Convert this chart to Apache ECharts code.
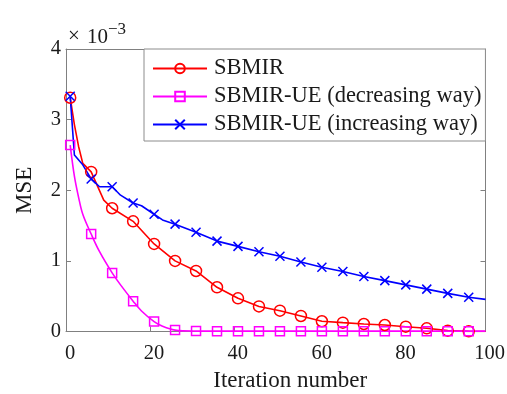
<!DOCTYPE html>
<html>
<head>
<meta charset="utf-8">
<script src="https://cdn.jsdelivr.net/npm/echarts@6/dist/echarts.min.js"></script>
<style>
  html, body { margin: 0; padding: 0; background: #fff; }
  #chart { width: 507px; height: 394px; }
</style>
</head>
<body>
<div id="chart"></div>
<script>
// iteration numbers and MSE (x 1e-3), markers are drawn every 5 iterations from 1
var redX = [1, 2, 3, 4, 6, 9, 11, 16, 21, 26, 31, 36, 41, 46, 51, 56, 61, 66, 71, 76, 81, 86, 91, 96, 100];
var redY = [3.31, 2.93, 2.62, 2.38, 2.26, 1.86, 1.745, 1.56, 1.24, 1.0, 0.857, 0.626, 0.47, 0.355, 0.295, 0.22, 0.145, 0.125, 0.106, 0.092, 0.068, 0.045, 0.012, 0.002, 0.0];

var magX = [1, 2, 3, 4, 6, 8, 11, 13, 16, 18, 21, 23, 26, 31, 36, 41, 46, 51, 56, 61, 66, 71, 76, 81, 86, 91, 96, 100];
var magY = [2.64, 2.2, 1.9, 1.66, 1.38, 1.13, 0.83, 0.66, 0.43, 0.29, 0.14, 0.075, 0.02, 0.006, 0.005, 0.005, 0.005, 0.005, 0.005, 0.005, 0.005, 0.005, 0.005, 0.005, 0.005, 0.005, 0.005, 0.005];

var blueX = [1, 2, 4, 6, 8, 11, 13, 16, 18, 21, 23, 26, 31, 36, 41, 46, 51, 56, 61, 66, 71, 76, 81, 86, 91, 96, 100];
var blueY = [3.33, 2.5, 2.36, 2.16, 2.05, 2.05, 1.93, 1.82, 1.78, 1.66, 1.58, 1.52, 1.405, 1.28, 1.205, 1.13, 1.065, 0.985, 0.91, 0.85, 0.78, 0.72, 0.66, 0.60, 0.54, 0.485, 0.455];

var names = ['SBMIR', 'SBMIR-UE (decreasing way)', 'SBMIR-UE (increasing way)'];
var xTicks = [0, 100, 20];
var yTicks = [0, 4, 1];

var FONT = '"Liberation Serif", "Times New Roman", serif';
var crossPath = 'path://M0,0L10,10M10,0L0,10';

function pts(xs, ys) {
  return xs.map(function (x, i) {
    var item = { value: [x, ys[i]] };
    if ((x - 1) % 5 !== 0 || x > 96) item.symbol = 'none';
    return item;
  });
}

function mkSeries(name, xs, ys, color, symbol, size, smooth) {
  return {
    name: name,
    type: 'line',
    data: pts(xs, ys),
    symbol: symbol,
    symbolSize: size,
    showAllSymbol: true,
    smooth: smooth,
    lineStyle: { color: color, width: 1.6 },
    itemStyle: { color: 'rgba(0,0,0,0)', borderColor: color, borderWidth: 1.5 },
    emphasis: { disabled: true },
    animation: false,
    z: 3
  };
}

var myChart = echarts.init(document.getElementById('chart'));
myChart.setOption({
  animation: false,
  grid: { left: 66, right: 21.5, top: 49, bottom: 62.5, outerBoundsMode: 'none', containLabel: false },
  legend: {
    left: 144,
    top: 49,
    orient: 'vertical',
    backgroundColor: '#fff',
    borderColor: '#8c8c8c',
    borderWidth: 1,
    padding: [8, 4, 5, 8],
    itemWidth: 54,
    itemHeight: 12,
    itemGap: 5,
    textStyle: { fontFamily: FONT, fontSize: 22.5, color: '#1a1a1a', lineHeight: 22, padding: [0, 0, 0, 2] },
    data: names
  },
  graphic: [{
    type: 'text',
    left: 68,
    top: 26,
    style: { text: '\u00d7', fontFamily: FONT, fontSize: 21, fill: '#1a1a1a' }
  }, {
    type: 'text',
    left: 87,
    top: 21,
    style: {
      text: '{a|10}{b|\u22123}',
      rich: {
        a: { fontFamily: FONT, fontSize: 21, fill: '#1a1a1a', verticalAlign: 'bottom' },
        b: { fontFamily: FONT, fontSize: 17, fill: '#1a1a1a', verticalAlign: 'top', padding: [0, 0, 10, 0] }
      }
    }
  }],
  xAxis: [{
    type: 'value',
    min: xTicks[0], max: xTicks[1], interval: xTicks[2],
    name: 'Iteration number',
    nameLocation: 'middle',
    nameGap: 37,
    nameTextStyle: { fontFamily: FONT, fontSize: 23, color: '#1a1a1a', padding: [0, 0, 0, 29] },
    axisLine: { onZero: false, lineStyle: { color: '#808080', width: 1 } },
    axisTick: { inside: true, length: 5, lineStyle: { color: '#808080' } },
    axisLabel: { fontFamily: FONT, fontSize: 20.5, color: '#1a1a1a', margin: 12, padding: [0, 0, 0, 8] },
    splitLine: { show: false }
  }, {
    type: 'value', position: 'top',
    min: xTicks[0], max: xTicks[1], interval: xTicks[2],
    axisLine: { onZero: false, lineStyle: { color: '#808080', width: 1 } },
    axisTick: { inside: true, length: 5, lineStyle: { color: '#808080' } },
    axisLabel: { show: false },
    splitLine: { show: false }
  }],
  yAxis: [{
    type: 'value',
    min: yTicks[0], max: yTicks[1], interval: yTicks[2],
    name: 'MSE',
    nameLocation: 'middle',
    nameGap: 30,
    nameTextStyle: { fontFamily: FONT, fontSize: 23, color: '#1a1a1a' },
    axisLine: { show: true, onZero: false, lineStyle: { color: '#808080', width: 1 } },
    axisTick: { show: true, inside: true, length: 5, lineStyle: { color: '#808080' } },
    axisLabel: { fontFamily: FONT, fontSize: 20.5, color: '#1a1a1a', margin: 5 },
    splitLine: { show: false }
  }, {
    type: 'value', position: 'right',
    min: yTicks[0], max: yTicks[1], interval: yTicks[2],
    axisLine: { show: true, onZero: false, lineStyle: { color: '#808080', width: 1 } },
    axisTick: { show: true, inside: true, length: 5, lineStyle: { color: '#808080' } },
    axisLabel: { show: false },
    splitLine: { show: false }
  }],
  series: [
    mkSeries(names[0], redX, redY, '#ff0000', 'circle', 11, false),
    mkSeries(names[1], magX, magY, '#ff00ff', 'rect', 9, 0.35),
    mkSeries(names[2], blueX, blueY, '#0000ff', crossPath, 9, false)
  ]
});
</script>
</body>
</html>
